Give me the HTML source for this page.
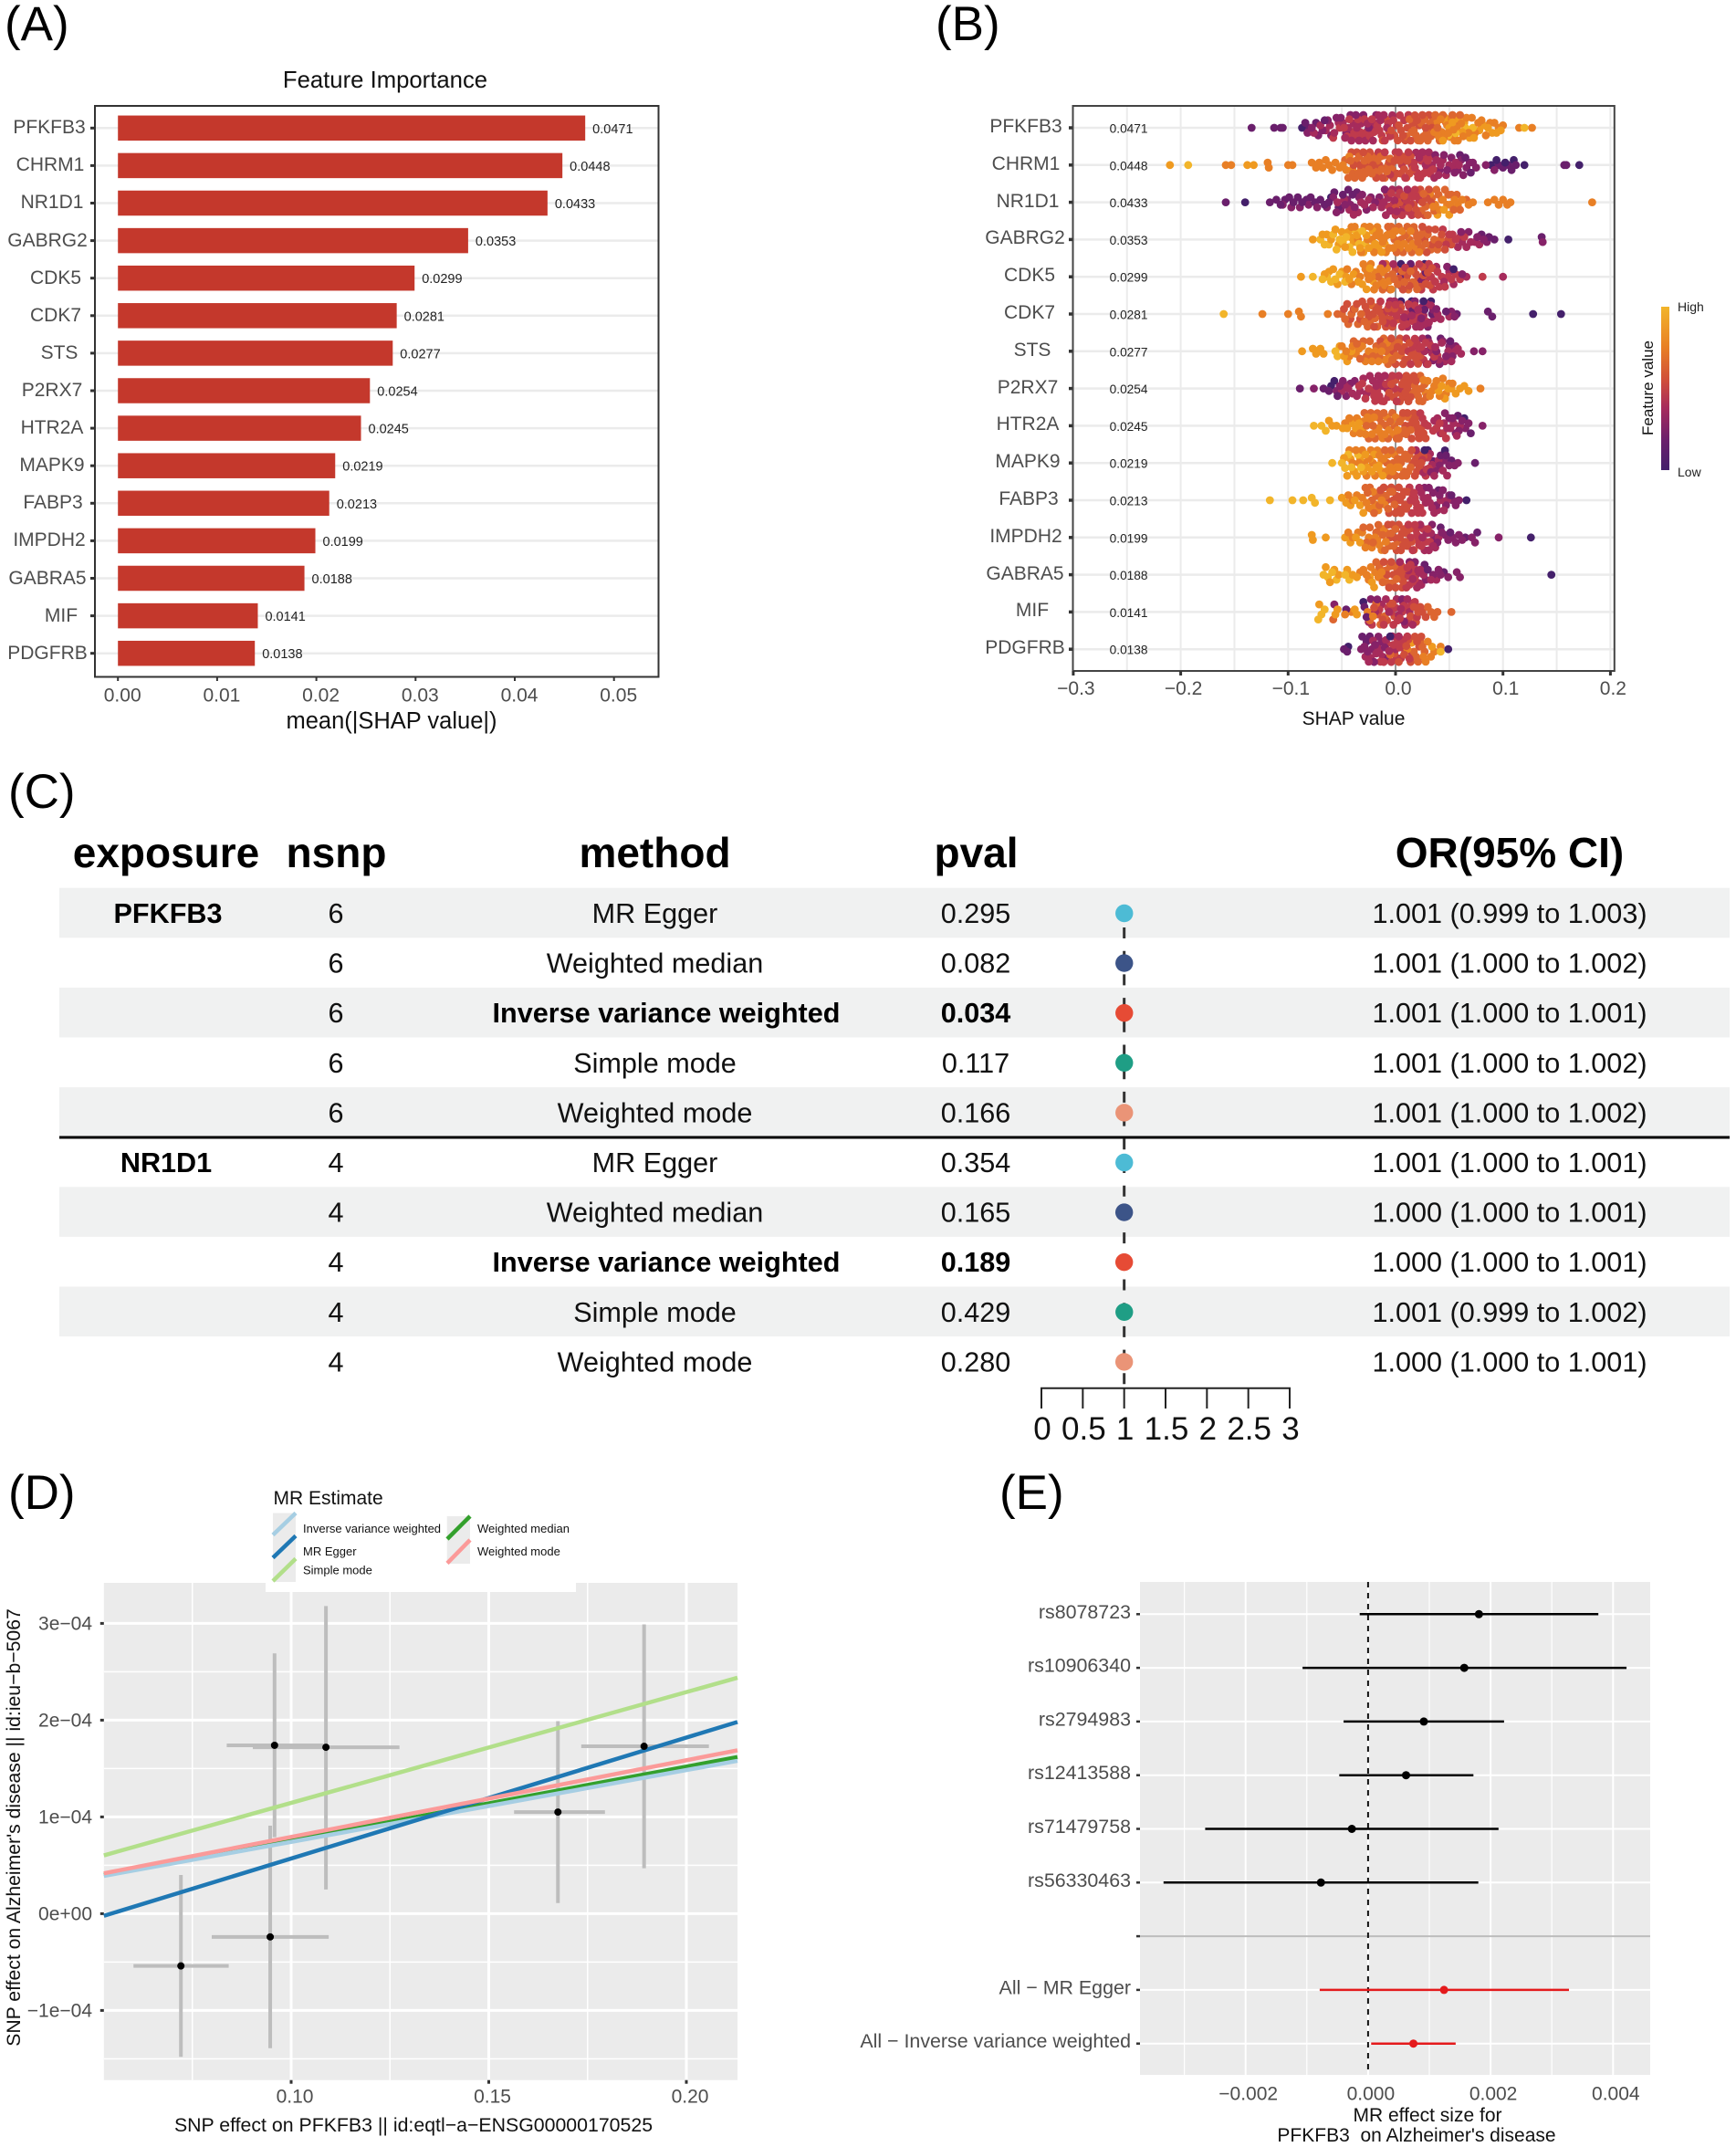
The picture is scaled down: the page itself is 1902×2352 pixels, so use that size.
<!DOCTYPE html>
<html lang="en">
<head>
<meta charset="utf-8">
<title>SHAP and Mendelian randomization figure</title>
<style>
html,body{margin:0;padding:0;background:#fff}
svg{display:block}
text{font-family:"Liberation Sans",sans-serif}
.plab{font-size:53px;fill:#000}
.yl{font-size:21px;fill:#4d4d4d;text-anchor:middle}
.ax{font-size:21px;fill:#4d4d4d}
.ttl{font-size:21px;fill:#111;text-anchor:middle}
.th{font-size:46px;font-weight:bold;fill:#000;text-anchor:middle}
.td{font-size:30.6px;fill:#111;text-anchor:middle}
.b{font-weight:bold;fill:#000}
.leg{font-size:13px;fill:#111}
</style>
</head>
<body>
<svg id="fig" xmlns="http://www.w3.org/2000/svg" width="1902" height="2352" viewBox="0 0 1902 2352">
<defs>
<linearGradient id="cbar" x1="0" y1="0" x2="0" y2="1">
<stop offset="0" stop-color="#f2b52a"/><stop offset="0.25" stop-color="#e87f25"/><stop offset="0.45" stop-color="#d04e3a"/><stop offset="0.62" stop-color="#a62b5c"/><stop offset="0.82" stop-color="#6a1f6c"/><stop offset="1" stop-color="#44206b"/>
</linearGradient>
</defs>
<rect width="1902" height="2352" fill="#fff"/>

<text class="plab" x="5" y="44">(A)</text>
<text class="plab" x="1025" y="44">(B)</text>
<text class="plab" x="9" y="885">(C)</text>
<text class="plab" x="9" y="1653">(D)</text>
<text class="plab" x="1095" y="1653">(E)</text>

<!-- Panel A -->
<g id="panelA"></g>
<text x="422" y="96" font-size="25.7" fill="#111" text-anchor="middle">Feature Importance</text>
<text x="429" y="798" font-size="25.5" fill="#111" text-anchor="middle">mean(|SHAP value|)</text>
<g>
<text class="yl" x="54" y="146">PFKFB3</text>
<text class="yl" x="55" y="187">CHRM1</text>
<text class="yl" x="57" y="228">NR1D1</text>
<text class="yl" x="52" y="270">GABRG2</text>
<text class="yl" x="61" y="311">CDK5</text>
<text class="yl" x="61" y="352">CDK7</text>
<text class="yl" x="65" y="393">STS</text>
<text class="yl" x="57" y="434">P2RX7</text>
<text class="yl" x="57" y="475">HTR2A</text>
<text class="yl" x="57" y="516">MAPK9</text>
<text class="yl" x="58" y="557">FABP3</text>
<text class="yl" x="54" y="598">IMPDH2</text>
<text class="yl" x="52" y="640">GABRA5</text>
<text class="yl" x="67" y="681">MIF</text>
<text class="yl" x="52" y="722">PDGFRB</text>
</g>

<!-- Panel B -->
<g id="panelB"></g>
<g>
<text class="yl" x="1124" y="145">PFKFB3</text>
<text class="yl" x="1124" y="186">CHRM1</text>
<text class="yl" x="1126" y="227">NR1D1</text>
<text class="yl" x="1123" y="267">GABRG2</text>
<text class="yl" x="1128" y="308">CDK5</text>
<text class="yl" x="1128" y="349">CDK7</text>
<text class="yl" x="1131" y="390">STS</text>
<text class="yl" x="1126" y="431">P2RX7</text>
<text class="yl" x="1126" y="471">HTR2A</text>
<text class="yl" x="1126" y="512">MAPK9</text>
<text class="yl" x="1127" y="553">FABP3</text>
<text class="yl" x="1124" y="594">IMPDH2</text>
<text class="yl" x="1123" y="635">GABRA5</text>
<text class="yl" x="1131" y="675">MIF</text>
<text class="yl" x="1123" y="716">PDGFRB</text>
</g>
<text x="1483" y="794" font-size="21" fill="#111" text-anchor="middle">SHAP value</text>
<rect x="1820" y="336" width="9" height="179" fill="url(#cbar)"/>
<text x="1838" y="341" font-size="14" fill="#222">High</text>
<text x="1838" y="522" font-size="14" fill="#222">Low</text>
<text transform="translate(1811,425) rotate(-90)" font-size="17" fill="#111" text-anchor="middle">Feature value</text>

<!-- Panel C -->
<g id="tableBands"></g>
<rect x="65" y="1244.5" width="1830" height="3" fill="#000"/>
<g id="panelC"></g>
<g>
<text class="th" x="182" y="950">exposure</text>
<text class="th" x="368.5" y="950">nsnp</text>
<text class="th" x="717.5" y="950">method</text>
<text class="th" x="1069.5" y="950">pval</text>
<text class="th" x="1654" y="950">OR(95% CI)</text>
</g>
<g>
<text class="td b" x="184" y="1011">PFKFB3</text>
<text class="td" x="368" y="1011">6</text>
<text class="td" x="717.5" y="1011">MR Egger</text>
<text class="td" x="1069" y="1011">0.295</text>
<text class="td" x="1654" y="1011">1.001 (0.999 to 1.003)</text>

<text class="td" x="368" y="1065.6">6</text>
<text class="td" x="717.5" y="1065.6">Weighted median</text>
<text class="td" x="1069" y="1065.6">0.082</text>
<text class="td" x="1654" y="1065.6">1.001 (1.000 to 1.002)</text>

<text class="td" x="368" y="1120.2">6</text>
<text class="td b" x="730" y="1120.2">Inverse variance weighted</text>
<text class="td b" x="1069" y="1120.2">0.034</text>
<text class="td" x="1654" y="1120.2">1.001 (1.000 to 1.001)</text>

<text class="td" x="368" y="1174.8">6</text>
<text class="td" x="717.5" y="1174.8">Simple mode</text>
<text class="td" x="1069" y="1174.8">0.117</text>
<text class="td" x="1654" y="1174.8">1.001 (1.000 to 1.002)</text>

<text class="td" x="368" y="1229.4">6</text>
<text class="td" x="717.5" y="1229.4">Weighted mode</text>
<text class="td" x="1069" y="1229.4">0.166</text>
<text class="td" x="1654" y="1229.4">1.001 (1.000 to 1.002)</text>

<text class="td b" x="182" y="1284">NR1D1</text>
<text class="td" x="368" y="1284">4</text>
<text class="td" x="717.5" y="1284">MR Egger</text>
<text class="td" x="1069" y="1284">0.354</text>
<text class="td" x="1654" y="1284">1.001 (1.000 to 1.001)</text>

<text class="td" x="368" y="1338.6">4</text>
<text class="td" x="717.5" y="1338.6">Weighted median</text>
<text class="td" x="1069" y="1338.6">0.165</text>
<text class="td" x="1654" y="1338.6">1.000 (1.000 to 1.001)</text>

<text class="td" x="368" y="1393.2">4</text>
<text class="td b" x="730" y="1393.2">Inverse variance weighted</text>
<text class="td b" x="1069" y="1393.2">0.189</text>
<text class="td" x="1654" y="1393.2">1.000 (1.000 to 1.001)</text>

<text class="td" x="368" y="1447.8">4</text>
<text class="td" x="717.5" y="1447.8">Simple mode</text>
<text class="td" x="1069" y="1447.8">0.429</text>
<text class="td" x="1654" y="1447.8">1.001 (0.999 to 1.002)</text>

<text class="td" x="368" y="1502.4">4</text>
<text class="td" x="717.5" y="1502.4">Weighted mode</text>
<text class="td" x="1069" y="1502.4">0.280</text>
<text class="td" x="1654" y="1502.4">1.000 (1.000 to 1.001)</text>
</g>

<!-- Panel D -->
<g id="panelD"></g>
<g>
<rect x="291" y="1625" width="340" height="119" fill="#fff"/>
<text x="299.5" y="1648" font-size="21" fill="#111">MR Estimate</text>
<rect x="299" y="1657.5" width="25" height="75.5" fill="#ebebeb"/>
<rect x="489.7" y="1661" width="25.3" height="52" fill="#ebebeb"/>
<line x1="299" y1="1681.5" x2="324" y2="1657.5" stroke="#a6cee3" stroke-width="4.5"/>
<line x1="299" y1="1706.5" x2="324" y2="1682.5" stroke="#1f78b4" stroke-width="4.5"/>
<line x1="299" y1="1732" x2="324" y2="1707.5" stroke="#b2df8a" stroke-width="4.5"/>
<line x1="490" y1="1686" x2="515" y2="1661" stroke="#33a02c" stroke-width="4.5"/>
<line x1="490" y1="1712.5" x2="515" y2="1687" stroke="#fb9a99" stroke-width="4.5"/>
<text class="leg" x="332" y="1679">Inverse variance weighted</text>
<text class="leg" x="332" y="1704">MR Egger</text>
<text class="leg" x="332" y="1724.5">Simple mode</text>
<text class="leg" x="523" y="1679">Weighted median</text>
<text class="leg" x="523" y="1704">Weighted mode</text>
</g>
<text x="453" y="2335" font-size="21.3" fill="#111" text-anchor="middle">SNP effect on PFKFB3 || id:eqtl−a−ENSG00000170525</text>
<text transform="translate(22,2002) rotate(-90)" font-size="21.2" fill="#111" text-anchor="middle">SNP effect on Alzheimer's disease || id:ieu−b−5067</text>

<!-- Panel E -->
<g id="panelE"></g>
<text x="1564" y="2324" font-size="21" fill="#111" text-anchor="middle">MR effect size for</text>
<text x="1552" y="2346" font-size="21" fill="#111" text-anchor="middle" style="white-space:pre">PFKFB3  on Alzheimer's disease</text>
</svg>

<script>
/* ---------- Panel A data ---------- */
const geneNames = ["PFKFB3","CHRM1","NR1D1","GABRG2","CDK5","CDK7","STS","P2RX7","HTR2A","MAPK9","FABP3","IMPDH2","GABRA5","MIF","PDGFRB"];
const importanceValues = [0.0471,0.0448,0.0433,0.0353,0.0299,0.0281,0.0277,0.0254,0.0245,0.0219,0.0213,0.0199,0.0188,0.0141,0.0138];
const importanceTicks = [0,0.01,0.02,0.03,0.04,0.05];
const importanceTickLabels = ["0.00","0.01","0.02","0.03","0.04","0.05"];

/* ---------- Panel B data: SHAP x 1000, grouped by feature-value level (0 low ... 9 high) ---------- */
const swarmPFKFB3 = [[-87],[-134,-113,-107,-105,-84,-80,-74,-66],[-82,-78,-72,-68,-63,-60,-55,-51,-46,-42,-37,-30,-25,-18],[-76,-70,-65,-61,-57,-53,-49,-47,-44,-41,-39,-36,-34,-32,-28,-26,-23,-21,-19,-16,-14,-11,-8,-3],[-58,-52,-48,-45,-43,-40,-38,-35,-33,-31,-29,-27,-24,-22,-20,-17,-15,-13,-10,-7,-5,-2,1,4,8,12],[-12,-9,-6,-4,-1,2,3,5,7,9,11,14,16,18,20,22,25,28,31,34],[10,13,15,17,19,21,23,24,26,27,29,30,32,33,35,37,39,41,44,47,50,53,56,60],[36,38,40,42,43,45,46,48,49,51,52,54,55,57,58,61,63,66,68,71,74,77,80,84,88,92,96,100,115,127],[44,47,50,53,59,62,64,69,73,78,82,86,90,94,98],[49,56,65,72,120]];
const swarmCHRM1 = [[89,94,102,110,120,171],[60,65,70,96,100,105,108,112,157,159],[37,41,45,48,52,55,58,61,63,66,69,72,75,84,92],[19,22,25,28,31,34,36,38,40,42,44,47,50,53,56,59],[-16,-10,-5,0,3,6,9,12,15,17,18,20,21,23,24,26,27,29,30,32,33,35],[-41,-39,-36,-33,-30,-27,-24,-21,-18,-15,-12,-9,-6,-4,-2,-1,1,2,4,5,7,8,10,11,13,14,16],[-47,-44,-42,-40,-38,-37,-35,-34,-32,-31,-29,-28,-26,-25,-23,-22,-20,-19,-17,-16,-14,-13,-11,-10,-8,-7,-5,-3],[-158,-153,-119,-118,-100,-96,-78,-74,-71,-68,-65,-62,-59,-56,-52,-49,-46,-43,-40],[-210,-138,-132],[-193]];
const swarmNR1D1 = [[-140,-60],[-158,-117,-111,-107,-103,-99,-95,-91,-87,-83,-79,-75,-70,-66,-62,-57,-53,-49,-44,-40,-36],[-105,-97,-89,-81,-73,-64,-58,-55,-51,-47,-45,-42,-38,-34,-31,-27,-23,-19,-15,-10],[-54,-48,-43,-39,-35,-32,-29,-25,-21,-17,-13,-11,-9,-7,-5,-3,-1,1,3,5,7,9,11],[-8,-6,-4,-2,0,2,4,6,8,10,12,13,14,15,16,18,20,22],[0,4,8,12,17,19,21,23,25,27,29,31,33],[24,26,28,30,34,36,38,40,43,46,49,52,54,57,60,66],[32,35,37,41,44,48,51,55,58,62,68,72,86,92,96,100,104,107,183],[39,45,50],[]];
const swarmGABRG2 = [[105],[80,87,92,136],[61,68,76,82,85,137],[58,62,66,70,74,78],[44,47,50,53,56,60,64],[25,27,29,31,34,37,40,43,46,49,52],[-7,-4,-1,1,3,5,7,9,11,13,15,17,18,20,21,23,24,26,28,30,33,36,39,42],[-41,-38,-35,-32,-29,-26,-24,-22,-20,-18,-17,-15,-14,-12,-11,-9,-8,-6,-5,-3,-2,0,2,4,6,8,10,12,14,16,19,22],[-77,-68,-64,-60,-56,-53,-50,-47,-44,-42,-39,-36,-33,-30,-27,-25,-23,-21,-19,-16,-13,-10],[-70,-66,-62,-58,-55,-52,-49,-46,-43,-40,-37,-34,-31,-28]];
const swarmCDK5 = [[5,27,54],[5,14,28],[24,48,62],[-12,-2,5,38,45,50,54,66,100],[9,22,24,27,29,31,33,35,37,39,41,43,46,49,52,56,60,81],[0,3,7,11,13,15,17,19,21,23,25,26,28,30,32,34,36],[-16,-12,-9,-7,-5,-3,-1,2,6,8,10,12,14,16,18,20],[-45,-41,-37,-33,-30,-28,-26,-25,-23,-22,-20,-19,-18,-17,-15,-14,-13,-11,-10,-8,-6,-4],[-88,-66,-62,-58,-54,-50,-46,-43,-39,-35,-31,-27,-24,-21],[-77,-68,-64,-60,-56,-52,-47]];
const swarmCDK7 = [[5,15,26,33,128,154],[9,16,27,34,47,57,86,90],[12,18,24,30,35,38,52,55],[-5,-1,8,11,13,15,17,19,21,22,23,25,26,27,29,31,33,36,39,42,50],[-14,-11,-8,-6,-4,-2,0,1,3,4,6,7,9,10,12,14,16,18,20,24,28],[-48,-45,-42,-39,-36,-33,-31,-28,-27,-25,-23,-21,-20,-18,-16,-15,-13,-12,-10,-9,-7,-5,-3,-1,2,5],[-54,-50,-47,-44,-41,-38,-35,-32,-29,-26,-24,-22,-19,-17],[-124,-100,-90,-88,-63],[],[-160]];
const swarmSTS = [[],[30,42,51],[32,35,38,41,44,47,50,53,56,73,81],[25,27,29,31,34,37,40,43,46,49,52,55,58,61],[10,12,14,16,18,20,22,24,26,28,30,33,36,39],[-14,-4,-2,0,2,4,6,7,8,9,11,13,15,17,19,21,23],[-39,-36,-33,-30,-27,-24,-21,-18,-15,-12,-11,-9,-7,-5,-3,-1,1,3,5],[-50,-46,-43,-40,-37,-34,-31,-28,-25,-22,-19,-16,-13,-10,-8,-6],[-87,-77,-74,-70,-67,-52,-48,-45,-41],[-56,-54]];
const swarmP2RX7 = [[-60,-57],[-89,-67,-62,-54],[-76,-55,-52,-49,-46,-42,-38],[-50,-47,-44,-40,-36,-33,-30,-27,-24,-21,-18,-16,-14,-12,-10,-8],[-34,-31,-28,-25,-22,-20,-19,-17,-15,-13,-11,-9,-7,-5,-3,-1,1,3,5],[-6,-4,-2,0,2,4,6,7,8,9,10,11,12,13,14,15,17,19],[16,18,20,21,22,23,24,25,27,29],[26,28,30,32,34,36,38,41,44,47,50,53,79],[40,43,46,49,52,56,60,64,68],[]];
const swarmHTR2A = [[64],[58,70],[46,50,53,56,59,62,65,68,81],[36,39,42,45,48,51,54,57,60],[23,25,27,30,35,38,41,44,47],[7,9,11,13,15,16,17,18,19,20,21,22,24,26,28],[-29,-27,-25,-23,-21,-19,-17,-15,-13,-11,-9,-7,-5,-3,-1,1,3,4,5,6,8,10,12,14],[-47,-43,-39,-36,-33,-30,-28,-26,-24,-22,-20,-18,-16,-14,-12,-10,-8,-6,-4,-2,0,2],[-62,-59,-55,-49,-45,-41,-37,-34,-31],[-76,-69,-65]];
const swarmMAPK9 = [[30,27,46],[35,42,47,52,74],[33,37,41,45,50,55,58],[19,26,32,34,36,40,44,48],[23,25,27,28,29,30,31],[15,16,17,18,19,20,21,22,24,26],[-10,-8,-6,-4,-2,0,2,4,5,6,7,8,9,10,11,12,13,14],[-43,-40,-37,-34,-31,-29,-27,-25,-23,-21,-19,-17,-15,-13,-11,-9,-7,-5,-3,-1,1,3],[-48,-45,-42,-39,-36,-33,-30,-28,-26,-24,-22,-20,-18,-16,-14,-12],[-59,-50,-47,-44,-41,-38,-35,-32]];
const swarmFABP3 = [[66],[40,52],[27,31,35,38,41,44,47,50,53,56,59],[22,24,26,28,30,32,34,36,39,42,45,48],[13,14,15,16,17,18,19,20,21,23,25],[-14,-11,-8,-6,-4,-2,0,1,2,3,4,5,6,7,8,9,10,11,12],[-28,-26,-24,-22,-20,-18,-15,-12,-9,-7,-5,-3,-1],[-44,-40,-36,-31,-27,-25,-23,-21,-19,-16,-13,-10],[-50,-46,-42,-38,-33,-30],[-117,-96,-86,-78,-75,-61]];
const swarmIMPDH2 = [[126],[42,51,65,76],[34,36,39,43,46,49,53,56,59,62,71,74,96],[23,25,27,29,31,33,35,37,40],[12,14,16,18,19,20,21,22,24,26,28,30,32],[-7,-5,-3,-1,1,3,4,5,6,7,8,9,10,11,13,15,17],[-30,-27,-24,-21,-18,-16,-14,-12,-10,-8,-6,-4,-2,0,2],[-44,-40,-35,-31,-28,-25,-22,-19,-17,-15,-13,-11,-9],[-78,-77,-65,-47,-42,-37,-33],[]];
const swarmGABRA5 = [[145],[27,30,45],[13,18,28,35,40,42,49,57,60],[4,8,12,16,19,20,21,22,23,24,26,33,38],[10,11,12,13,14,15,16,17,18],[-11,-8,-6,-4,-2,0,2,3,4,5,6,7,8,9],[-18,-15,-12,-9,-7,-5,-3,-1,1],[-33,-30,-27,-25,-23,-19,-16,-13,-10],[-65,-61,-57,-53,-45,-40,-36,-24,-22,-20],[-67,-63,-59,-55,-47,-43]];
const swarmMIF = [[-30],[-46,-27,-29],[-23,-17,-57,6,8],[-25,-19,-13,-9,-6,1,3,5,7,9,11,13,16],[-22,-15,-11,-7,-4,-2,0,2,4,6,8,10,12,15,18,20],[-20,-16,-12,-8,-5,-3,-1,14,17,19,21,23,25,28],[-58,-24,-18,-14,-10,30,33,36,39,52],[-47,-41,-26,-21],[-71,-56,-54,-38,-36],[-72,-69,-66]];
const swarmPDGFRB = [[-44,49,-5],[-48,-45,-31,-27,-24],[-32,-29,-26,-22,-20,-19,-16,-13,-10,-7],[-28,-25,-23,-21,-18,-17,-15,-12,-9,-6,-3,0,3],[-14,-11,-8,-4,-2,1,2,4,5,7,9,11,13,15],[-1,3,6,8,10,12,14,16,18,20,22,24],[-5,17,19,21,23,25,27],[11,26,28,30,33,36,42],[15,34],[42]];
const swarmRows = [swarmPFKFB3,swarmCHRM1,swarmNR1D1,swarmGABRG2,swarmCDK5,swarmCDK7,swarmSTS,swarmP2RX7,swarmHTR2A,swarmMAPK9,swarmFABP3,swarmIMPDH2,swarmGABRA5,swarmMIF,swarmPDGFRB];
const shapTicks = [-0.3,-0.2,-0.1,0,0.1,0.2];
const shapTickLabels = ["−0.3","−0.2","−0.1","0.0","0.1","0.2"];
const shapGridValues = [-0.25,-0.2,-0.15,-0.1,-0.05,0.05,0.1,0.15,0.2];

/* ---------- Panel C data ---------- */
const orEstimates = [1.001,1.001,1.001,1.001,1.001,1.001,1.000,1.000,1.001,1.000];
const methodColors = ["#4dbbd5","#3c5488","#e64b35","#1f9e85","#ea9477","#4dbbd5","#3c5488","#e64b35","#1f9e85","#ea9477"];
const orTicks = [0,0.5,1,1.5,2,2.5,3];
const orTickLabels = ["0","0.5","1","1.5","2","2.5","3"];

/* ---------- Panel D data ---------- */
const snpExposure = [0.0721,0.0947,0.0958,0.1088,0.1675,0.1893];
const snpExposureLow = [0.0601,0.0799,0.0837,0.0903,0.1564,0.1734];
const snpExposureHigh = [0.0842,0.1095,0.1082,0.1274,0.1794,0.2057];
const snpOutcome = [-0.54,-0.24,1.74,1.72,1.05,1.73];
const snpOutcomeLow = [-1.48,-1.39,0.79,0.25,0.11,0.47];
const snpOutcomeHigh = [0.40,0.91,2.69,3.18,1.99,2.99];
const lineMethods = ["weighted-median","ivw","mr-egger","simple-mode","weighted-mode"];
const lineSlopes = [7.6,7.42,12.5,11.45,7.93];
const lineIntercepts = [0,0,-0.68,0,0];
const lineColors = ["#33a02c","#a6cee3","#1f78b4","#b2df8a","#fb9a99"];
const scatterXTicks = [0.10,0.15,0.20];
const scatterXTickLabels = ["0.10","0.15","0.20"];
const scatterXMinor = [0.075,0.125,0.175];
const scatterYTicks = [-1,0,1,2,3];
const scatterYTickLabels = ["−1e−04","0e+00","1e−04","2e−04","3e−04"];
const scatterYMinor = [-1.5,-0.5,0.5,1.5,2.5];

/* ---------- Panel E data ---------- */
const forestLabels = ["rs8078723","rs10906340","rs2794983","rs12413588","rs71479758","rs56330463","","All − MR Egger","All − Inverse variance weighted"];
const forestEstimates = [1.81,1.57,0.91,0.62,-0.265,-0.77,null,1.24,0.74];
const forestLow = [-0.137,-1.07,-0.40,-0.47,-2.66,-3.34,null,-0.79,0.05];
const forestHigh = [3.76,4.22,2.22,1.72,2.13,1.80,null,3.28,1.43];
const forestXTicks = [-2,0,2,4];
const forestXTickLabels = ["−0.002","0.000","0.002","0.004"];
const forestXMinor = [-3,-1,1,3];

const SVGNS = "http://www.w3.org/2000/svg";
const levelColors = ["#44206b","#6a1f6c","#862268","#a62b5c","#bf3a4c","#d04e3a","#dd6630","#e87f25","#ef9a20","#f2b52a"];
function mk(parent, tag, attrs, txt){
  const e = document.createElementNS(SVGNS, tag);
  for (const k in attrs) e.setAttribute(k, attrs[k]);
  if (txt !== undefined) e.textContent = txt;
  parent.appendChild(e);
  return e;
}
let el;

/* ===== Panel A ===== */
const gA = document.getElementById("panelA");
const xA = v => 129.2 + v * 10870;
const yA = i => 140.3 + i * 41.1;
geneNames.forEach((g, i) => {
  el = mk(gA, "line", {x1:104, x2:721, y1:yA(i), y2:yA(i), stroke:"#ebebeb", "stroke-width":2.5});
  
  
  el = mk(gA, "rect", {x:xA(0), y:yA(i)-13.75, width:xA(importanceValues[i])-xA(0), height:27.5, fill:"#c4382c"});
  
  
  el = mk(gA, "text", {x:xA(importanceValues[i])+8, y:yA(i)+5.5, "font-size":14.5, fill:"#222"}, importanceValues[i].toFixed(4));
  
  
  el = mk(gA, "line", {x1:99, x2:104, y1:yA(i), y2:yA(i), stroke:"#333", "stroke-width":3});
  
  
});
el = mk(gA, "rect", {x:104, y:116, width:617.5, height:625.5, fill:"none", stroke:"#333", "stroke-width":2});


importanceTicks.forEach((t, i) => {
  el = mk(gA, "line", {x1:xA(t), x2:xA(t), y1:741.5, y2:746, stroke:"#333", "stroke-width":2});
  
  
  el = mk(gA, "text", {x:xA(t)+5, y:768.5, "font-size":21, fill:"#4d4d4d", "text-anchor":"middle"}, importanceTickLabels[i]);
  
  
});

/* ===== Panel B ===== */
const gB = document.getElementById("panelB");
const xB = v => 1529 + v * 1177;
const yB = i => 140 + i * 40.8;
shapGridValues.forEach(v => {
  el = mk(gB, "line", {x1:xB(v), x2:xB(v), y1:116, y2:735, stroke:"#ebebeb", "stroke-width":2});
  
  
});
geneNames.forEach((g, i) => {
  el = mk(gB, "line", {x1:1176, x2:1768, y1:yB(i), y2:yB(i), stroke:"#ebebeb", "stroke-width":2.5});
  
  
  el = mk(gB, "line", {x1:1171, x2:1175.5, y1:yB(i), y2:yB(i), stroke:"#333", "stroke-width":3.5});
  
  
  el = mk(gB, "text", {x:1236.6, y:yB(i)+5.5, "font-size":13.7, fill:"#222", "text-anchor":"middle"}, importanceValues[i].toFixed(4));
  
  
});
el = mk(gB, "line", {x1:xB(0), x2:xB(0), y1:116, y2:735, stroke:"#999", "stroke-width":2});



/* column-binned beeswarm: stack each x column symmetrically around the row line */
const SWARM_COL = 8, SWARM_STEP = 5.5, SWARM_MAX_SPREAD = 28;
function layoutSwarm(points){
  const cols = {};
  points.forEach(p => {
    const c = Math.round(p.px / SWARM_COL);
    (cols[c] = cols[c] || []).push(p);
  });
  Object.keys(cols).forEach(c => {
    const n = cols[c].length;
    const stride = [3,7,11,13,17].find(q => n % q !== 0);
    const step = n > 1 ? Math.min(SWARM_STEP, SWARM_MAX_SPREAD / (n - 1)) : 0;
    cols[c].forEach((p, k) => {
      const rank = (k * stride) % n;
      p.off = (rank - (n - 1) / 2) * step;
    });
  });
  return points;
}
swarmRows.forEach((row, r) => {
  const pts = [];
  row.forEach((vals, lvl) => vals.forEach(v => pts.push({px:xB(v/1000), lvl:lvl})));
  layoutSwarm(pts);
  /* paint in a mixed order so overlapping colours interleave */
  pts.map((p, i) => ({p:p, key:(i * 37) % 101})).sort((a, b) => a.key - b.key).forEach(o => {
    const p = o.p;
    el = mk(gB, "circle", {cx:p.px.toFixed(1), cy:(yB(r)+p.off).toFixed(1), r:4.4, fill:levelColors[p.lvl]});
    
    
  });
});
el = mk(gB, "path", {d:"M1175.5 116H1768.8V735H1175.5Z", fill:"none", stroke:"#444", "stroke-width":2});


shapTicks.forEach((t, i) => {
  el = mk(gB, "line", {x1:xB(t), x2:xB(t), y1:735, y2:740, stroke:"#333", "stroke-width":3});
  
  
  el = mk(gB, "text", {x:xB(t)+3, y:761, "font-size":21, fill:"#4d4d4d", "text-anchor":"middle"}, shapTickLabels[i]);
  
  
});

/* ===== Panel C ===== */
const gBands = document.getElementById("tableBands");
const gC = document.getElementById("panelC");
const xC = v => 1141 + v * 90.67;
const yC = i => 1000 + i * 54.6;
orEstimates.forEach((v, i) => {
  if (i % 2 === 0) {
    el = mk(gBands, "rect", {x:65, y:yC(i)-27.3, width:1830, height:54.6, fill:"#f0f1f1"});
    
    
  }
});
el = mk(gC, "line", {x1:xC(1), x2:xC(1), y1:1016, y2:1518, stroke:"#333", "stroke-width":3, "stroke-dasharray":"12 13.7"});


orEstimates.forEach((v, i) => {
  el = mk(gC, "circle", {cx:xC(v), cy:yC(i)+0.5, r:9.7, fill:methodColors[i]});
  
  
});
el = mk(gC, "line", {x1:xC(0)-1, x2:xC(3)+1, y1:1520.7, y2:1520.7, stroke:"#222", "stroke-width":2});


orTicks.forEach((t, i) => {
  el = mk(gC, "line", {x1:xC(t), x2:xC(t), y1:1520.7, y2:1543, stroke:"#222", "stroke-width":2});
  
  
  el = mk(gC, "text", {x:xC(t)+1, y:1577, "font-size":35, fill:"#111", "text-anchor":"middle"}, orTickLabels[i]);
  
  
});

/* ===== Panel D ===== */
const gD = document.getElementById("panelD");
const xD = v => 319 + (v - 0.1) * 4330;
const yD = v => 2096.4 - v * 106;
const dLeft = 113.8, dRight = 808, dTop = 1734, dBottom = 2278.7;
const invXD = px => 0.1 + (px - 319) / 4330;
el = mk(gD, "rect", {x:dLeft, y:dTop, width:dRight-dLeft, height:dBottom-dTop, fill:"#ebebeb"});


scatterXMinor.forEach(v => {
  el = mk(gD, "line", {x1:xD(v), x2:xD(v), y1:dTop, y2:dBottom, stroke:"#fff", "stroke-width":1.5});
  
  
});
scatterYMinor.forEach(v => {
  el = mk(gD, "line", {x1:dLeft, x2:dRight, y1:yD(v), y2:yD(v), stroke:"#fff", "stroke-width":1.5});
  
  
});
scatterXTicks.forEach((v, i) => {
  el = mk(gD, "line", {x1:xD(v), x2:xD(v), y1:dTop, y2:dBottom, stroke:"#fff", "stroke-width":3});
  
  
  el = mk(gD, "line", {x1:xD(v), x2:xD(v), y1:dBottom, y2:dBottom+4, stroke:"#333", "stroke-width":3});
  
  
  el = mk(gD, "text", {x:xD(v)+4, y:2303.5, "font-size":21, fill:"#4d4d4d", "text-anchor":"middle"}, scatterXTickLabels[i]);
  
  
});
scatterYTicks.forEach((v, i) => {
  el = mk(gD, "line", {x1:dLeft, x2:dRight, y1:yD(v), y2:yD(v), stroke:"#fff", "stroke-width":3});
  
  
  el = mk(gD, "line", {x1:dLeft-4, x2:dLeft, y1:yD(v), y2:yD(v), stroke:"#333", "stroke-width":3});
  
  
  el = mk(gD, "text", {x:101, y:yD(v)+7, "font-size":21, fill:"#4d4d4d", "text-anchor":"end"}, scatterYTickLabels[i]);
  
  
});
snpExposure.forEach((x, i) => {
  el = mk(gD, "line", {x1:xD(snpExposureLow[i]), x2:xD(snpExposureHigh[i]), y1:yD(snpOutcome[i]), y2:yD(snpOutcome[i]), stroke:"#bdbdbd", "stroke-width":4});
  
  
  el = mk(gD, "line", {x1:xD(x), x2:xD(x), y1:yD(snpOutcomeLow[i]), y2:yD(snpOutcomeHigh[i]), stroke:"#bdbdbd", "stroke-width":4});
  
  
});
lineMethods.forEach((m, i) => {
  const a = invXD(dLeft), b = invXD(dRight);
  el = mk(gD, "line", {x1:dLeft, x2:dRight, y1:yD(lineSlopes[i]*a+lineIntercepts[i]), y2:yD(lineSlopes[i]*b+lineIntercepts[i]), stroke:lineColors[i], "stroke-width":4.5});
  
  
});
snpExposure.forEach((x, i) => {
  el = mk(gD, "circle", {cx:xD(x), cy:yD(snpOutcome[i]), r:4, fill:"#000"});
  
  
});

/* ===== Panel E ===== */
const gE = document.getElementById("panelE");
const xE = v => 1498.9 + v * 67.1;
const yE = i => 1768.3 + i * 58.8;
const eLeft = 1249, eRight = 1808, eTop = 1733, eBottom = 2273;
el = mk(gE, "rect", {x:eLeft, y:eTop, width:eRight-eLeft, height:eBottom-eTop, fill:"#ebebeb"});


forestXMinor.forEach(v => {
  el = mk(gE, "line", {x1:xE(v), x2:xE(v), y1:eTop, y2:eBottom, stroke:"#fff", "stroke-width":1.2});
  
  
});
forestXTicks.forEach((v, i) => {
  el = mk(gE, "line", {x1:xE(v), x2:xE(v), y1:eTop, y2:eBottom, stroke:"#fff", "stroke-width":2});
  
  
  el = mk(gE, "text", {x:xE(v)+3, y:2300.5, "font-size":21, fill:"#4d4d4d", "text-anchor":"middle"}, forestXTickLabels[i]);
  
  
});
forestLabels.forEach((lab, i) => {
  el = mk(gE, "line", {x1:eLeft, x2:eRight, y1:yE(i), y2:yE(i), stroke:forestEstimates[i]===null?"#bdbdbd":"#fff", "stroke-width":2});
  
  
  el = mk(gE, "line", {x1:eLeft-4, x2:eLeft, y1:yE(i), y2:yE(i), stroke:"#333", "stroke-width":2.5});
  
  
  if (lab) {
    el = mk(gE, "text", {x:1239, y:yE(i)+4.5, "font-size":21.4, fill:"#4d4d4d", "text-anchor":"end"}, lab);
    
    
  }
});
el = mk(gE, "line", {x1:xE(0), x2:xE(0), y1:eTop, y2:eBottom, stroke:"#111", "stroke-width":2, "stroke-dasharray":"6 6"});


forestEstimates.forEach((v, i) => {
  if (v === null) return;
  const col = i >= 7 ? "#e41a1c" : "#000";
  el = mk(gE, "line", {x1:xE(forestLow[i]), x2:xE(forestHigh[i]), y1:yE(i), y2:yE(i), stroke:col, "stroke-width":2.5});
  
  
  el = mk(gE, "circle", {cx:xE(v), cy:yE(i), r:4.5, fill:col});
  
  
});
</script>
</body>
</html>
